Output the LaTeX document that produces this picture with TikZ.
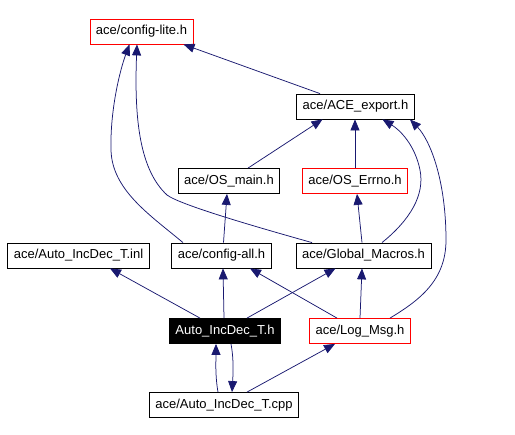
\documentclass[tikz,border=0pt]{standalone}
\usepackage{fontspec}
\setmainfont{Liberation Sans}
\usetikzlibrary{arrows.meta}
\definecolor{edgeblue}{RGB}{25,25,112}
\definecolor{boxred}{RGB}{255,0,0}
\tikzset{
  filebox/.style={draw=black,line width=0.8pt,inner xsep=6pt,inner ysep=0pt,minimum height=25pt,font=\fontsize{13}{15}\selectfont},
  redbox/.style={filebox,draw=boxred},
  curbox/.style={filebox,fill=black,text=white},
  edge/.style={draw=edgeblue,line width=0.75pt,-{Triangle[length=11pt,width=9pt]}}
}
\begin{document}
\begin{tikzpicture}[x=1pt,y=-1pt]
\useasboundingbox (0,0) rectangle (515,435);
% Text Node
\node [redbox] (cfglite) at (141.5,31.5) {ace/config-lite.h};
% Text Node
\node [filebox] (aceexp) at (355.5,106.5) {ace/ACE\_export.h};
% Text Node
\node [filebox] (osmain) at (229,181) {ace/OS\_main.h};
% Text Node
\node [redbox] (oserrno) at (355,181) {ace/OS\_Errno.h};
% Text Node
\node [filebox] (incinl) at (78.5,255.5) {ace/Auto\_IncDec\_T.inl};
% Text Node
\node [filebox] (cfgall) at (221.5,255.5) {ace/config-all.h};
% Text Node
\node [filebox] (globmac) at (363.5,255.5) {ace/Global\_Macros.h};
% Text Node
\node [curbox] (incdech) at (225,331) {Auto\_IncDec\_T.h};
% Text Node
\node [redbox] (logmsg) at (360,331) {ace/Log\_Msg.h};
% Text Node
\node [filebox] (incdeccpp) at (224,405) {ace/Auto\_IncDec\_T.cpp};
%Straight Lines
\draw [edge] ([xshift=-25pt]incdech.north) -- ([xshift=31.5pt]incinl.south);
\draw [edge] ([xshift=-1pt]incdech.north) -- ([xshift=1.5pt]cfgall.south);
\draw [edge] ([xshift=22pt]incdech.north) -- ([xshift=-28pt]globmac.south);
\draw [edge] ([xshift=-23pt]logmsg.north) -- ([xshift=28.5pt]cfgall.south);
\draw [edge] (logmsg.north) -- ([xshift=-1.5pt]globmac.south);
\draw [edge] ([xshift=23pt]incdeccpp.north) -- ([xshift=-25pt]logmsg.south);
\draw [edge] ([xshift=-1.5pt]globmac.north) -- ([xshift=2pt]oserrno.south);
\draw [edge] ([xshift=2pt]cfgall.north) -- ([xshift=-2pt]osmain.south);
\draw [edge] ([xshift=19pt]osmain.north) -- ([xshift=-33pt]aceexp.south);
\draw [edge] (oserrno.north) -- ([xshift=-0.5pt]aceexp.south);
\draw [edge] ([xshift=-35.5pt]aceexp.north) -- ([xshift=42pt]cfglite.south);
%Curve Lines
\draw [edge] ([xshift=-6pt]incdeccpp.north) .. controls (215,375) and (216,360) .. ([xshift=-9pt]incdech.south);
\draw [edge] ([xshift=6pt]incdech.south) .. controls (234,360) and (233,375) .. ([xshift=8pt]incdeccpp.north);
\draw [edge] ([xshift=30pt]logmsg.north) .. controls (420,300) and (446,280) .. (446,240) .. controls (446,180) and (430,140) .. ([xshift=54.5pt]aceexp.south);
\draw [edge] ([xshift=18.5pt]globmac.north) .. controls (410,220) and (425,195) .. (420,170) .. controls (415,145) and (400,130) .. ([xshift=27pt]aceexp.south);
\draw [edge] ([xshift=-51.5pt]globmac.north) .. controls (260,228) and (180,205) .. (167,195) .. controls (140,170) and (134,120) .. ([xshift=-4.5pt]cfglite.south);
\draw [edge] ([xshift=-38.5pt]cfgall.north) .. controls (150,215) and (112,190) .. (111,150) .. controls (110,110) and (120,70) .. ([xshift=-12pt]cfglite.south);
\end{tikzpicture}
\end{document}
